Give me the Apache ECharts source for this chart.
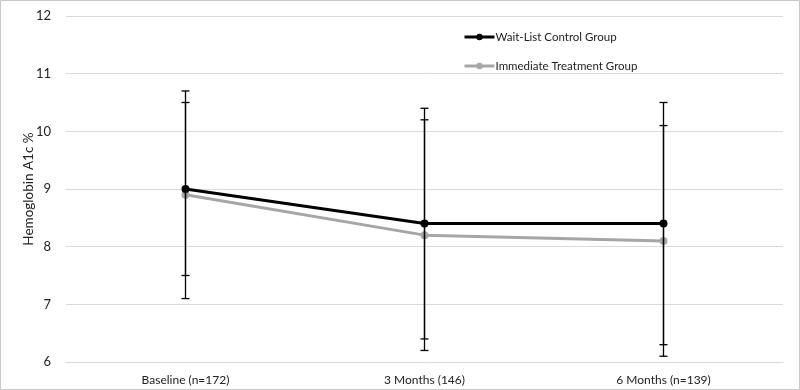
<!DOCTYPE html>
<html>
<head>
<meta charset="utf-8">
<script src="https://cdn.jsdelivr.net/npm/echarts@6/dist/echarts.min.js"></script>
<style>
  html, body { margin: 0; padding: 0; background: #fff; }
  #chart { width: 800px; height: 390px; }
</style>
</head>
<body>
<div id="chart"></div>
<script>
// categories and values
var categories = ['Baseline (n=172)', '3 Months (146)', '6 Months (n=139)'];
var waitMean = [9.0, 8.4, 8.4];
var waitLow = [7.5, 6.4, 6.3];
var waitHigh = [10.5, 10.4, 10.5];
var immMean = [8.9, 8.2, 8.1];
var immLow = [7.1, 6.2, 6.1];
var immHigh = [10.7, 10.2, 10.1];
var yTicks = [6, 7, 8, 9, 10, 11, 12];

var chart = echarts.init(document.getElementById('chart'));

function errData(low, high) {
    var out = [];
    for (var i = 0; i < low.length; i++) {
        out.push([i, low[i], high[i]]);
    }
    return out;
}

function renderErr(params, api) {
    var x = api.value(0);
    var top = api.coord([x, api.value(2)]);
    var bot = api.coord([x, api.value(1)]);
    var hw = 4;
    var style = { stroke: '#000', lineWidth: 1.3 };
    return {
        type: 'group',
        children: [
            { type: 'line', shape: { x1: top[0], y1: top[1], x2: bot[0], y2: bot[1] }, style: style },
            { type: 'line', shape: { x1: top[0] - hw, y1: top[1], x2: top[0] + hw, y2: top[1] }, style: style },
            { type: 'line', shape: { x1: bot[0] - hw, y1: bot[1], x2: bot[0] + hw, y2: bot[1] }, style: style }
        ]
    };
}

var font = 'Lato, "Open Sans", sans-serif';

var option = {
    animation: false,
    textStyle: { fontFamily: font },
    graphic: [{
        type: 'rect',
        shape: { x: 0.5, y: 0.5, width: 799, height: 389 },
        style: { fill: 'none', stroke: '#c8c8c8', lineWidth: 1 },
        silent: true
    }],
    grid: { left: 66, right: 17, top: 16, bottom: 28 },
    legend: {
        orient: 'vertical',
        left: 458,
        top: 26,
        itemWidth: 30,
        itemHeight: 8,
        itemGap: 17,
        lineStyle: { width: 3 },
        data: ['Wait-List Control Group', 'Immediate Treatment Group'],
        textStyle: { fontFamily: font, fontSize: 11.5, color: '#222', padding: [0, 0, 0, -4] }
    },
    xAxis: {
        type: 'category',
        data: categories,
        boundaryGap: true,
        axisLine: { show: true, lineStyle: { color: '#d9d9d9', width: 1 } },
        axisTick: { show: false },
        axisLabel: { color: '#222', fontSize: 12, fontFamily: font, margin: 12 }
    },
    yAxis: {
        type: 'value',
        min: yTicks[0],
        max: yTicks[yTicks.length - 1],
        interval: 1,
        name: 'Hemoglobin A1c %',
        nameLocation: 'middle',
        nameRotate: 90,
        nameGap: 30,
        nameMoveOverlap: false,
        nameTextStyle: { color: '#222', fontSize: 13.5, fontFamily: font },
        axisLine: { show: false },
        axisTick: { show: false },
        axisLabel: { color: '#222', fontSize: 13, fontFamily: font, margin: 15 },
        splitLine: { lineStyle: { color: '#d9d9d9', width: 1 } }
    },
    series: [
        {
            name: 'Immediate Treatment Group',
            type: 'line',
            data: immMean,
            symbol: 'circle',
            symbolSize: 8,
            lineStyle: { color: '#a6a6a6', width: 3 },
            itemStyle: { color: '#a6a6a6' },
            z: 2
        },
        {
            name: 'Immediate Treatment Group err',
            type: 'custom',
            renderItem: renderErr,
            data: errData(immLow, immHigh),
            z: 3
        },
        {
            name: 'Wait-List Control Group',
            type: 'line',
            data: waitMean,
            symbol: 'circle',
            symbolSize: 8,
            lineStyle: { color: '#000', width: 3 },
            itemStyle: { color: '#000' },
            z: 4
        },
        {
            name: 'Wait-List Control Group err',
            type: 'custom',
            renderItem: renderErr,
            data: errData(waitLow, waitHigh),
            z: 5
        }
    ]
};

chart.setOption(option);
</script>
</body>
</html>
